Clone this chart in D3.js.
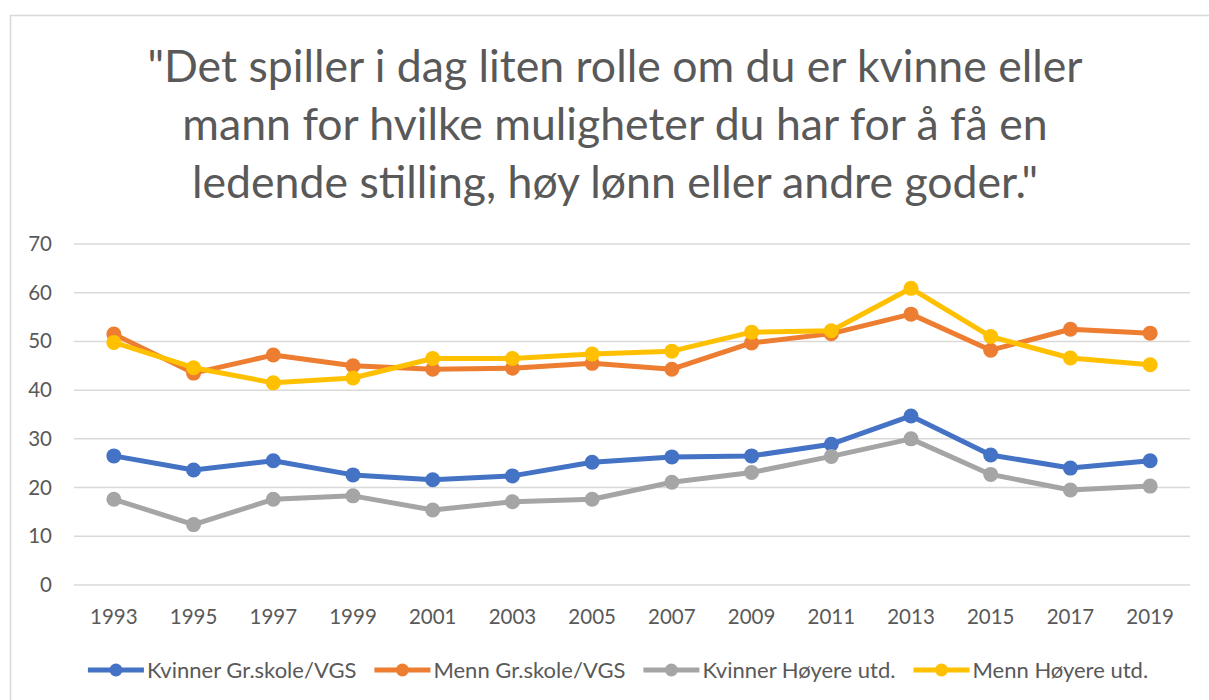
<!DOCTYPE html>
<html lang="no">
<head>
<meta charset="UTF-8">
<title>Kvinne eller mann</title>
<script src="https://d3js.org/d3.v7.min.js"></script>
<style>
  body { margin: 0; background: #fff; }
  svg { display: block; }
</style>
</head>
<body>
<svg width="1209" height="700"></svg>
<script>
// data
const years = ["1993","1995","1997","1999","2001","2003","2005","2007","2009","2011","2013","2015","2017","2019"];
const kvinnerGr = [26.5, 23.6, 25.5, 22.6, 21.6, 22.4, 25.2, 26.3, 26.5, 28.9, 34.7, 26.7, 24.0, 25.5];
const mennGr    = [51.5, 43.5, 47.2, 45.0, 44.3, 44.5, 45.5, 44.3, 49.7, 51.6, 55.6, 48.2, 52.5, 51.7];
const kvinnerHo = [17.6, 12.4, 17.6, 18.3, 15.4, 17.1, 17.6, 21.1, 23.1, 26.4, 30.0, 22.7, 19.5, 20.3];
const mennHo    = [49.8, 44.6, 41.5, 42.5, 46.5, 46.5, 47.4, 48.0, 51.9, 52.2, 60.9, 51.0, 46.6, 45.2];
const yTicks = [0, 10, 20, 30, 40, 50, 60, 70];
const titleLines = [
  "\"Det spiller i dag liten rolle om du er kvinne eller",
  "mann for hvilke muligheter du har for å få en",
  "ledende stilling, høy lønn eller andre goder.\""
];

const series = [
  {name: "Kvinner Gr.skole/VGS", values: kvinnerGr, color: "#4472C4"},
  {name: "Menn Gr.skole/VGS",    values: mennGr,    color: "#ED7D31"},
  {name: "Kvinner Høyere utd.",  values: kvinnerHo, color: "#A5A5A5"},
  {name: "Menn Høyere utd.",     values: mennHo,    color: "#FFC000"}
];

const font = "Lato, 'Open Sans', sans-serif";
const textColor = "#595959";

const svg = d3.select("svg");

// chart border (runs off the right and bottom edge)
svg.append("rect")
  .attr("x", 10.5).attr("y", 15.5)
  .attr("width", 1220).attr("height", 700)
  .attr("fill", "none")
  .attr("stroke", "#d9d9d9")
  .attr("stroke-width", 1.5);

// title
svg.append("g").selectAll("text")
  .data(titleLines)
  .join("text")
  .attr("x", 615)
  .attr("y", (d, i) => 82 + i * 58)
  .attr("text-anchor", "middle")
  .attr("font-family", font)
  .attr("font-size", 44.6)
  .attr("fill", textColor)
  .text(d => d);

const plotLeft = 74, plotRight = 1190, plotTop = 244, plotBottom = 585;

const x = d3.scaleBand().domain(years).range([plotLeft, plotRight]);
const y = d3.scaleLinear().domain([0, 70]).range([plotBottom, plotTop]);

// gridlines
svg.append("g").selectAll("line")
  .data(yTicks)
  .join("line")
  .attr("x1", plotLeft).attr("x2", plotRight)
  .attr("y1", d => y(d)).attr("y2", d => y(d))
  .attr("stroke", "#d9d9d9")
  .attr("stroke-width", 1.5);

// y axis labels
const yAxis = svg.append("g")
  .attr("transform", `translate(${plotLeft - 22},0)`)
  .call(d3.axisLeft(y).tickValues(yTicks).tickSize(0).tickPadding(0));
yAxis.select(".domain").remove();
yAxis.selectAll("text")
  .attr("font-family", font)
  .attr("font-size", 20.5)
  .attr("fill", textColor);

// x axis labels
const xAxis = svg.append("g")
  .attr("transform", `translate(0,${plotBottom})`)
  .call(d3.axisBottom(x).tickSize(0).tickPadding(24));
xAxis.select(".domain").remove();
xAxis.selectAll("text")
  .attr("font-family", font)
  .attr("font-size", 20.5)
  .attr("fill", textColor);

// lines + markers
const line = d3.line()
  .x((d, i) => x(years[i]) + x.bandwidth() / 2)
  .y(d => y(d));

series.forEach(s => {
  const g = svg.append("g");
  g.append("path")
    .datum(s.values)
    .attr("d", line)
    .attr("fill", "none")
    .attr("stroke", s.color)
    .attr("stroke-width", 5)
    .attr("stroke-linejoin", "round")
    .attr("stroke-linecap", "round");
  g.selectAll("circle")
    .data(s.values)
    .join("circle")
    .attr("cx", (d, i) => x(years[i]) + x.bandwidth() / 2)
    .attr("cy", d => y(d))
    .attr("r", 7.5)
    .attr("fill", s.color);
});

// legend
const legend = svg.append("g").attr("transform", "translate(0,670)");
const items = legend.selectAll("g")
  .data(series)
  .join("g");
items.append("line")
  .attr("x1", 0).attr("x2", 56)
  .attr("stroke", d => d.color)
  .attr("stroke-width", 5);
items.append("circle")
  .attr("cx", 28).attr("r", 6.5)
  .attr("fill", d => d.color);
items.append("text")
  .attr("x", 59)
  .attr("dy", "0.35em")
  .attr("font-family", font)
  .attr("font-size", 22)
  .attr("fill", textColor)
  .text(d => d.name);

// position legend items side by side, centred
const gap = 18;
let widths = [];
items.each(function () { widths.push(this.getBBox().width); });
const total = d3.sum(widths) + gap * (widths.length - 1);
let pos = 618 - total / 2;
items.attr("transform", (d, i) => {
  const t = `translate(${pos},0)`;
  pos += widths[i] + gap;
  return t;
});
</script>
</body>
</html>
